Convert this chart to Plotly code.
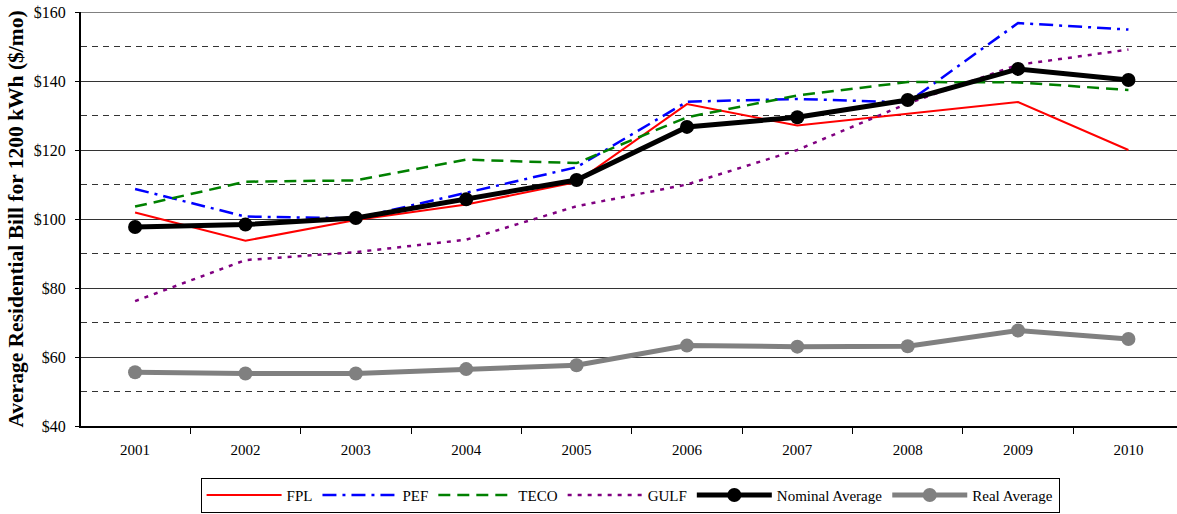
import plotly.graph_objects as go

years = ["2001", "2002", "2003", "2004", "2005", "2006", "2007", "2008", "2009", "2010"]
fpl = [101.9, 93.7, 99.7, 104.2, 110.7, 133.3, 127.1, 130.4, 133.9, 120.0]
pef = [108.7, 100.7, 100.2, 107.5, 115.0, 134.0, 134.8, 133.8, 156.8, 154.9]
teco = [103.6, 110.8, 111.2, 117.2, 116.2, 129.5, 135.8, 139.7, 139.6, 137.4]
gulf = [76.2, 88.1, 90.4, 94.0, 103.7, 110.0, 120.0, 133.5, 144.7, 149.1]
nominal = [97.7, 98.4, 100.3, 105.7, 111.3, 126.7, 129.5, 134.5, 143.5, 140.3]
real = [55.6, 55.2, 55.2, 56.5, 57.6, 63.3, 63.0, 63.1, 67.7, 65.2]

serif = "Liberation Serif, Times New Roman, serif"

fig = go.Figure()
fig.add_trace(go.Scatter(x=years, y=fpl, name="FPL", mode="lines",
                         line=dict(color="#ff0000", width=2)))
fig.add_trace(go.Scatter(x=years, y=pef, name="PEF", mode="lines",
                         line=dict(color="#0000ff", width=2.5, dash="14px,6px,3px,6px")))
fig.add_trace(go.Scatter(x=years, y=teco, name="TECO", mode="lines",
                         line=dict(color="#008000", width=2.5, dash="12px,7px")))
fig.add_trace(go.Scatter(x=years, y=gulf, name="GULF", mode="lines",
                         line=dict(color="#800080", width=2.5, dash="4px,6px")))
fig.add_trace(go.Scatter(x=years, y=real, name="Real Average", mode="lines+markers",
                         line=dict(color="#808080", width=5),
                         marker=dict(color="#808080", size=14, symbol="circle")))
fig.add_trace(go.Scatter(x=years, y=nominal, name="Nominal Average", mode="lines+markers",
                         line=dict(color="#000000", width=5),
                         marker=dict(color="#000000", size=14, symbol="circle")))

fig.update_layout(
    width=1177, height=514,
    margin=dict(l=81, r=0, t=12, b=88),
    paper_bgcolor="white", plot_bgcolor="white",
    font=dict(family=serif, color="black", size=15),
    showlegend=True,
    legend=dict(orientation="h", x=0.501, xanchor="center", y=-0.125, yanchor="top",
                bordercolor="black", borderwidth=1, bgcolor="white",
                font=dict(family=serif, size=15), traceorder="normal",
                itemwidth=75),
    xaxis=dict(type="category", range=[-0.49, 9.44], showgrid=False,
               showline=True, linecolor="black", linewidth=2,
               ticks="outside", tickson="boundaries", ticklen=6, tickcolor="black",
               ticklabelstandoff=9,
               tickfont=dict(family=serif, size=15), zeroline=False),
    yaxis=dict(range=[40, 160], dtick=20, tick0=40, tickprefix="$",
               showgrid=True, gridcolor="#333333", gridwidth=1,
               minor=dict(dtick=10, tick0=40, showgrid=True, gridcolor="#333333",
                          griddash="6px,5px", gridwidth=1),
               showline=True, linecolor="black", linewidth=2,
               ticks="outside", ticklen=4, tickcolor="black",
               ticklabelstandoff=6,
               tickfont=dict(family=serif, size=16), zeroline=False,
               title=dict(text="<b>Average Residential Bill for 1200 kWh ($/mo)</b>",
                          font=dict(family=serif, size=21.5), standoff=4)),
    shapes=[dict(type="line", xref="paper", yref="y", x0=0, x1=1, y0=160, y1=160,
                 line=dict(color="#808080", width=2))],
)

fig.data[0].legendrank = 1000
fig.data[1].legendrank = 1001
fig.data[2].legendrank = 1002
fig.data[3].legendrank = 1003
fig.data[5].legendrank = 1004
fig.data[4].legendrank = 1005

fig.write_html("out.html", config={"displayModeBar": False},
               post_script="document.body.style.margin='0px';")
